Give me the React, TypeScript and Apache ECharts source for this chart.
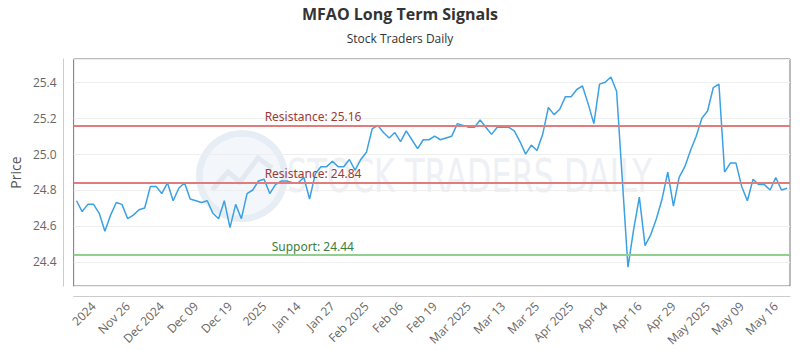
import React, { useEffect, useRef } from "react";
import * as echarts from "echarts";

const prices: number[] = [
  24.74, 24.68, 24.72, 24.72, 24.67, 24.57, 24.66, 24.73, 24.72, 24.64,
  24.66, 24.69, 24.70, 24.82, 24.82, 24.78, 24.84, 24.74, 24.81, 24.84,
  24.75, 24.74, 24.73, 24.74, 24.67, 24.64, 24.74, 24.59, 24.72, 24.64,
  24.78, 24.80, 24.85, 24.86, 24.78, 24.83, 24.85, 24.85, 24.84, 24.84,
  24.87, 24.75, 24.89, 24.93, 24.93, 24.96, 24.93, 24.93, 24.97, 24.91,
  24.97, 25.01, 25.14, 25.16, 25.12, 25.09, 25.12, 25.07, 25.13, 25.08,
  25.03, 25.08, 25.08, 25.10, 25.08, 25.09, 25.10, 25.17, 25.16, 25.15,
  25.15, 25.19, 25.15, 25.11, 25.15, 25.15, 25.15, 25.13, 25.07, 25.00,
  25.05, 25.02, 25.11, 25.26, 25.22, 25.25, 25.32, 25.32, 25.36, 25.38,
  25.28, 25.17, 25.39, 25.40, 25.43, 25.35, 24.86, 24.37, 24.58, 24.76,
  24.49, 24.55, 24.64, 24.75, 24.90, 24.71, 24.87, 24.93, 25.02, 25.10,
  25.20, 25.24, 25.37, 25.39, 24.90, 24.95, 24.95, 24.82, 24.74, 24.86,
  24.83, 24.83, 24.80, 24.87, 24.80, 24.81,
];

const tickLabels: string[] = [
  "2024", "Nov 26", "Dec 2024", "Dec 09", "Dec 19", "2025", "Jan 14",
  "Jan 27", "Feb 2025", "Feb 06", "Feb 19", "Mar 2025", "Mar 13", "Mar 25",
  "Apr 2025", "Apr 04", "Apr 16", "Apr 29", "May 2025", "May 09", "May 16",
];

const firstTickIndex = 3;
const tickEvery = 6;

const resistanceLevels: number[] = [25.16, 24.84];
const supportLevels: number[] = [24.44];

const categories: string[] = prices.map((_, i) => {
  const k = (i - firstTickIndex) / tickEvery;
  return Number.isInteger(k) && k >= 0 && k < tickLabels.length ? tickLabels[k] : "";
});

export default function App() {
  const ref = useRef<HTMLDivElement>(null);

  useEffect(() => {
    if (!ref.current) return;
    const chart = echarts.init(ref.current, undefined, { renderer: "svg" });
    const font = "'Open Sans', 'Noto Sans', sans-serif";

    const markData: any[] = [
      ...resistanceLevels.map((v) => ({
        yAxis: v,
        lineStyle: { color: "#e07c7c", width: 2, type: "solid" },
        label: {
          show: true,
          position: "insideStartTop",
          distance: [191, 3],
          formatter: `Resistance: ${v.toFixed(2)}`,
          color: "#9c3b3b",
          fontSize: 12,
          fontFamily: "'Noto Sans', sans-serif",
        },
      })),
      ...supportLevels.map((v) => ({
        yAxis: v,
        lineStyle: { color: "#8fd08f", width: 2, type: "solid" },
        label: {
          show: true,
          position: "insideStartTop",
          distance: [198, 2],
          formatter: `Support: ${v.toFixed(2)}`,
          color: "#3d7d3d",
          fontSize: 12,
          fontFamily: "'Noto Sans', sans-serif",
        },
      })),
    ];

    chart.setOption({
      animation: false,
      backgroundColor: "#ffffff",
      title: [
        {
          text: "MFAO Long Term Signals",
          left: "center",
          top: 1,
          textStyle: { fontSize: 16, fontWeight: "bold", color: "#333333", fontFamily: font },
        },
        {
          text: "Stock Traders Daily",
          left: "center",
          top: 27,
          textStyle: { fontSize: 12, fontWeight: "normal", color: "#333333", fontFamily: font },
        },
      ],
      graphic: [
        {
          type: "ring",
          shape: { cx: 242, cy: 176, r: 46, r0: 39 },
          style: { fill: "#e6edf5" },
          silent: true,
          z: 0,
        },
        {
          type: "circle",
          shape: { cx: 242, cy: 176, r: 39 },
          style: { fill: "#f3f6fa" },
          silent: true,
          z: 0,
        },
        {
          type: "polyline",
          shape: { points: [[212, 190], [228, 172], [240, 182], [258, 158], [272, 168]] },
          style: { stroke: "#e3e9f0", lineWidth: 5, fill: null },
          silent: true,
          z: 0,
        },
        {
          type: "text",
          x: 287,
          y: 176,
          scaleX: 0.77,
          style: {
            text: "STOCK TRADERS DAILY",
            fontSize: 46,
            fontFamily: "'Liberation Sans Narrow', 'DejaVu Sans Condensed', sans-serif",
            fill: "#edf0f4",
            verticalAlign: "middle",
            align: "left",
          },
          silent: true,
          z: 0,
        },
      ],
      grid: {
        left: 70,
        right: 10,
        top: 59,
        bottom: 64,
        show: true,
        borderColor: "#777777",
        borderWidth: 1,
        backgroundColor: "transparent",
      },
      xAxis: {
        type: "category",
        data: categories,
        boundaryGap: true,
        offset: 10,
        axisLine: { show: true, lineStyle: { color: "#cccccc" } },
        axisTick: { show: false },
        splitLine: { show: false },
        axisLabel: {
          interval: (index: number) =>
            (index - firstTickIndex) % tickEvery === 0 && index >= firstTickIndex,
          rotate: 45,
          margin: 8,
          fontSize: 12,
          color: "#666666",
          fontFamily: font,
        },
      },
      yAxis: {
        type: "value",
        min: 24.265,
        max: 25.53,
        splitNumber: 6,
        offset: 10,
        name: "Price",
        nameLocation: "middle",
        nameGap: 40,
        nameTextStyle: { fontSize: 14, color: "#555555", fontFamily: font },
        axisLine: { show: true, lineStyle: { color: "#cccccc" } },
        axisTick: { show: false },
        splitLine: { show: true, lineStyle: { color: "#eeeeee" } },
        axisLabel: {
          showMinLabel: false,
          showMaxLabel: false,
          formatter: (v: number) => v.toFixed(1),
          fontSize: 12,
          color: "#666666",
          margin: 7,
          fontFamily: font,
        },
      },
      series: [
        {
          type: "line",
          data: prices,
          symbol: "none",
          lineStyle: { color: "#3ba1e3", width: 1.5 },
          itemStyle: { color: "#3ba1e3" },
          z: 3,
          markLine: {
            silent: true,
            symbol: ["none", "none"],
            data: markData,
          },
        },
      ],
    });

    return () => chart.dispose();
  }, []);

  return (
    <div
      ref={ref}
      style={{ position: "fixed", left: 0, top: 0, width: 800, height: 350 }}
    />
  );
}
